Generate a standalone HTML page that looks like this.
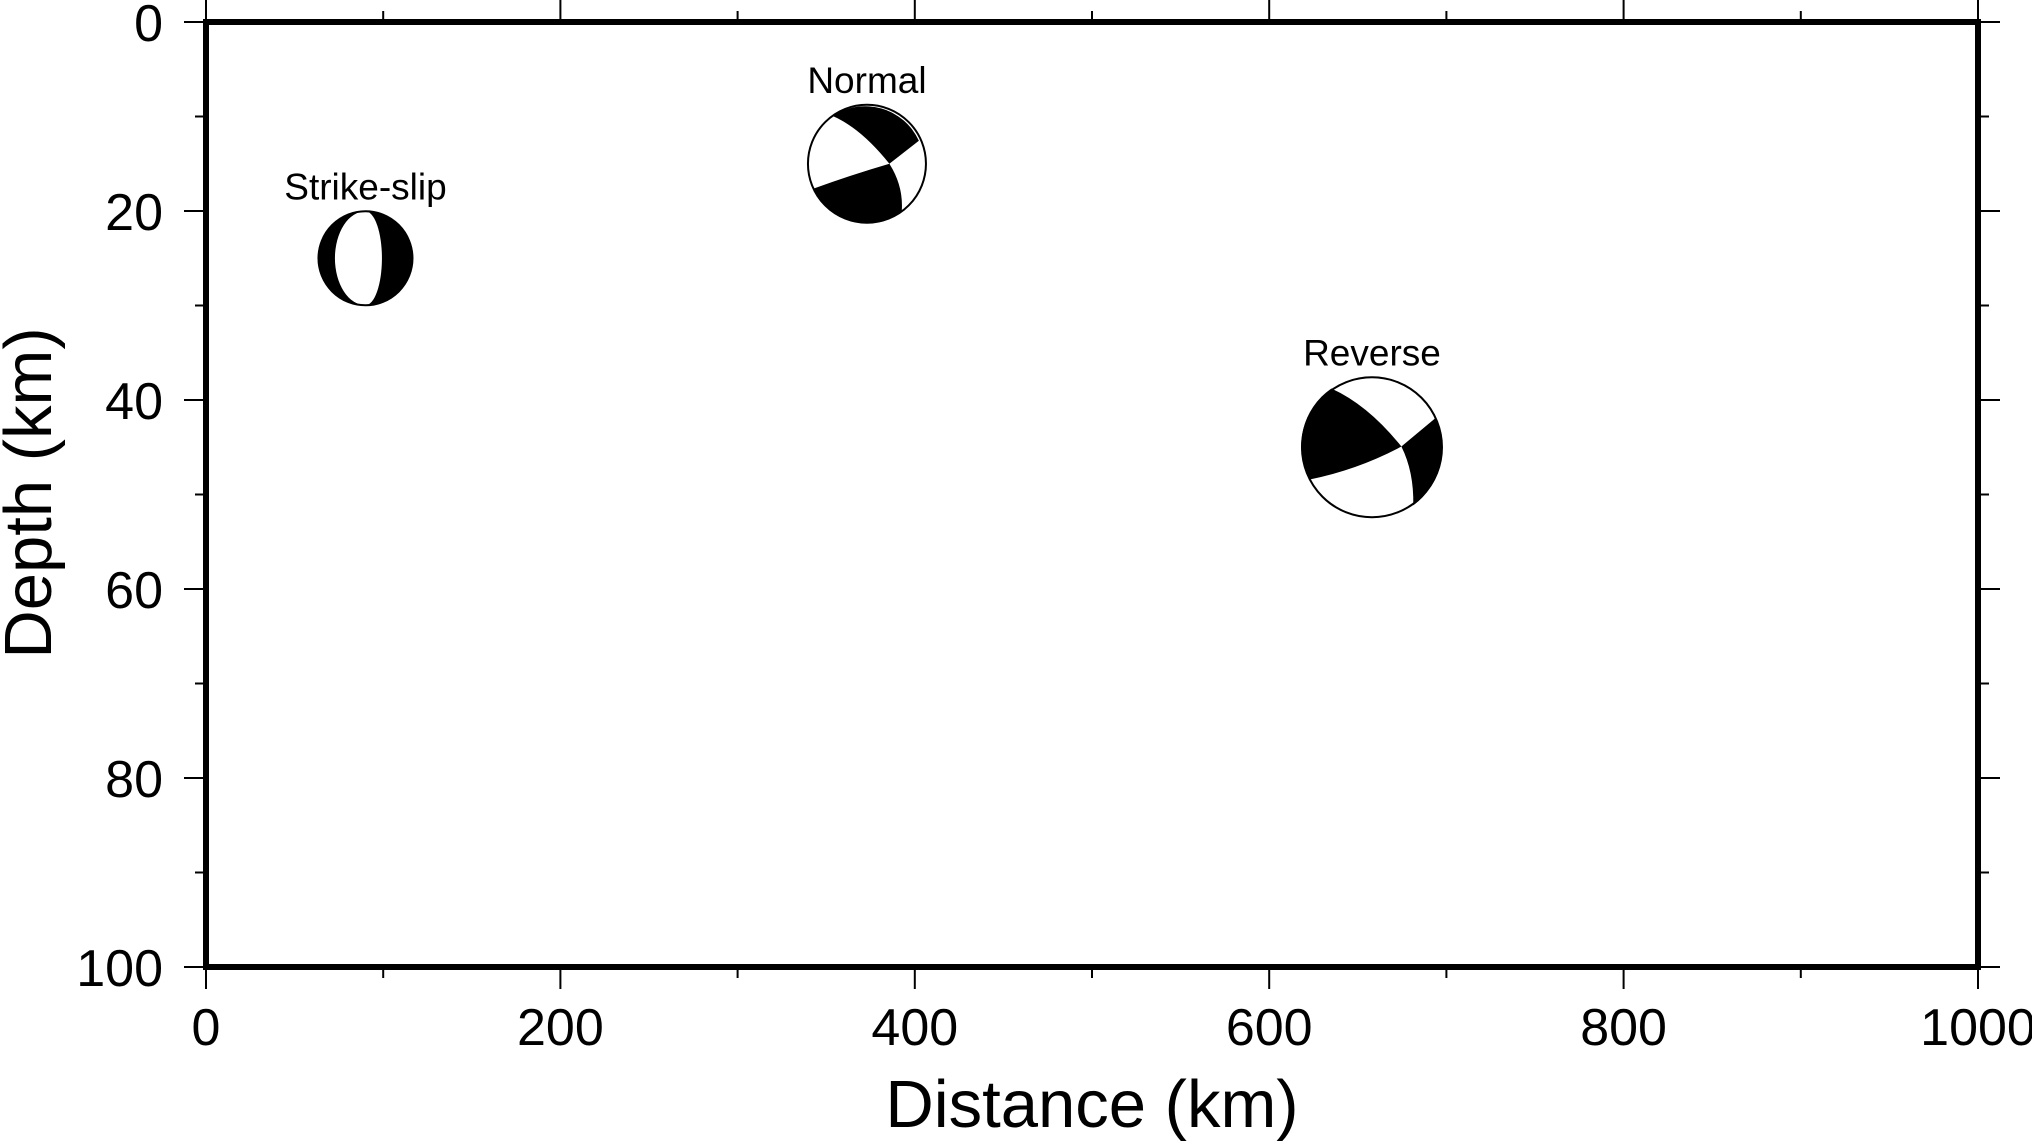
<!DOCTYPE html>
<html><head><meta charset="utf-8"><style>
html,body{margin:0;padding:0;background:#fff;}
svg{display:block;font-family:"Liberation Sans",sans-serif;}
</style></head><body>
<svg id="chart" width="2032" height="1141" viewBox="0 0 2032 1141">
<g id="axes"></g>
<g id="balls"></g>
<text x="1092" y="1127" font-size="67" text-anchor="middle">Distance (km)</text>
<text transform="translate(51,493) rotate(-90)" font-size="67" text-anchor="middle">Depth (km)</text>
</svg>
<script>
const names = ["Strike-slip", "Normal", "Reverse"];
const distances = [90, 373, 658];
const depths = [25, 15, 45];
const radii = [47, 59, 70];
const types = ["ss", "normal", "reverse"];
const xTicks = [0, 200, 400, 600, 800, 1000];
const yTicks = [0, 20, 40, 60, 80, 100];

const L = 206, R = 1978, T = 22, B = 967;
const xS = v => L + (v - 0) / 1000 * (R - L);
const yS = v => T + (v - 0) / 100 * (B - T);
const NS = "http://www.w3.org/2000/svg";
const axes = document.getElementById('axes');
const balls = document.getElementById('balls');
function mk(tag, attrs, parent) {
  const e = document.createElementNS(NS, tag);
  for (const k in attrs) e.setAttribute(k, attrs[k]);
  parent.appendChild(e);
  return e;
}
const fr = mk('rect', {x: L, y: T, width: R - L, height: B - T, fill: 'none', stroke: '#000', 'stroke-width': 6}, axes);


for (let v = 0; v <= 1000; v += 100) {
  const major = v % 200 === 0;
  const len = major ? 22 : 11;
  const x = xS(v);
  const t1 = mk('line', {x1: x, x2: x, y1: B, y2: B + len, stroke: '#000', 'stroke-width': 2}, axes);
  
  
  const t2 = mk('line', {x1: x, x2: x, y1: T, y2: T - len, stroke: '#000', 'stroke-width': 2}, axes);
  
  
}
xTicks.forEach(v => {
  const t = mk('text', {x: xS(v), y: 1045, 'font-size': 52, 'text-anchor': 'middle'}, axes);
  t.textContent = v;
  
  
});
for (let v = 0; v <= 100; v += 10) {
  const major = v % 20 === 0;
  const len = major ? 22 : 11;
  const y = yS(v);
  const t1 = mk('line', {x1: L, x2: L - len, y1: y, y2: y, stroke: '#000', 'stroke-width': 2}, axes);
  
  
  const t2 = mk('line', {x1: R, x2: R + len, y1: y, y2: y, stroke: '#000', 'stroke-width': 2}, axes);
  
  
}
yTicks.forEach(v => {
  const t = mk('text', {x: 163, y: yS(v) + 19, 'font-size': 52, 'text-anchor': 'end'}, axes);
  t.textContent = v;
  
  
});
const shapes = {
  ss: {bg: '#000', paths: [['#fff', 'M0,-1 A0.65,1 0 0 0 0,1 A0.35,1 0 0 0 0,-1 Z']]},
  normal: {bg: '#fff', paths: [
    ['#000', 'M-0.58,-0.81 Q-0.1,-0.6 0.38,0 L0.88,-0.39 A1,1 0 0 0 -0.58,-0.81 Z'],
    ['#000', 'M0.38,0 Q0.62,0.38 0.59,0.8 A1,1 0 0 1 -0.9,0.42 Q-0.3,0.2 0.38,0 Z']]},
  reverse: {bg: '#fff', paths: [
    ['#000', 'M-0.58,-0.84 Q-0.05,-0.6 0.42,-0.01 Q-0.2,0.32 -0.89,0.46 A1,1 0 0 1 -0.58,-0.84 Z'],
    ['#000', 'M0.9,-0.41 L0.42,-0.01 Q0.6,0.35 0.59,0.83 A1,1 0 0 0 0.9,-0.41 Z']]}
};
names.forEach((n, i) => {
  const cx = xS(distances[i]), cy = yS(depths[i]), r = radii[i];
  const g = mk('g', {transform: `translate(${cx},${cy}) scale(${r})`}, balls);
  
  
  const s = shapes[types[i]];
  mk('circle', {cx: 0, cy: 0, r: 1, fill: s.bg}, g);
  s.paths.forEach(p => mk('path', {d: p[1], fill: p[0]}, g));
  mk('circle', {cx: 0, cy: 0, r: 1, fill: 'none', stroke: '#000', 'stroke-width': 2, 'vector-effect': 'non-scaling-stroke'}, g);
  const t = mk('text', {x: cx, y: cy - r - 12, 'font-size': 37, 'text-anchor': 'middle'}, balls);
  t.textContent = n;
  
  
});
</script>
</body></html>
